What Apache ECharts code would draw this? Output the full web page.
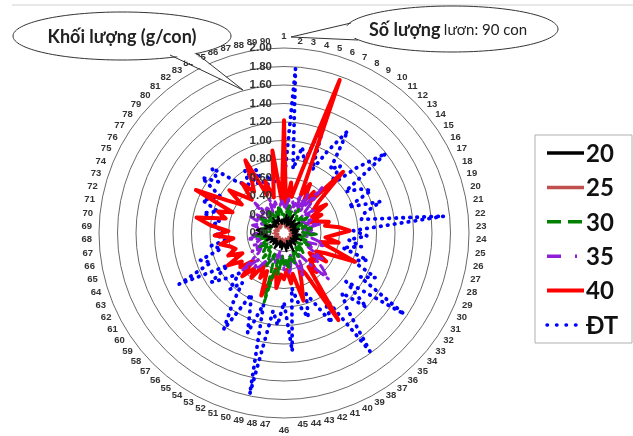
<!DOCTYPE html>
<html><head><meta charset="utf-8">
<script src="https://cdn.jsdelivr.net/npm/echarts@6/dist/echarts.min.js"></script>
<style>html,body{margin:0;padding:0;background:#fff}#c{width:633px;height:436px}</style>
</head><body><div id="c"></div>
<script>
const categories = Array.from({length: 90}, (_, i) => String(i + 1));
const seriesNames = ['20', '25', '30', '35', '40', 'ĐT'];

const s20 = [
0.15,0.10,0.20,0.12,0.18,0.08,0.15,0.22,0.10,0.14,
0.18,0.12,0.09,0.16,0.20,0.11,0.14,0.08,0.12,0.17,
0.10,0.15,0.13,0.09,0.18,0.12,0.15,0.10,0.20,0.14,
0.11,0.16,0.09,0.13,0.18,0.12,0.10,0.15,0.22,0.13,
0.09,0.17,0.12,0.20,0.15,0.11,0.14,0.18,0.10,0.16,
0.12,0.09,0.15,0.19,0.13,0.11,0.17,0.14,0.10,0.18,
0.12,0.15,0.20,0.13,0.17,0.22,0.18,0.28,0.24,0.30,
0.26,0.20,0.16,0.22,0.14,0.18,0.12,0.15,0.10,0.17,
0.13,0.20,0.11,0.16,0.14,0.19,0.12,0.10,0.15,0.13];
const s25 = [
0.12,0.08,0.10,0.06,0.12,0.09,0.07,0.11,0.08,0.10,
0.06,0.09,0.12,0.07,0.10,0.08,0.11,0.06,0.09,0.12,
0.08,0.10,0.07,0.11,0.09,0.06,0.10,0.08,0.12,0.07,
0.09,0.11,0.08,0.06,0.10,0.12,0.09,0.07,0.11,0.08,
0.10,0.06,0.09,0.12,0.08,0.10,0.07,0.11,0.09,0.06,
0.10,0.08,0.12,0.07,0.09,0.11,0.08,0.06,0.10,0.12,
0.09,0.07,0.11,0.08,0.10,0.06,0.09,0.12,0.08,0.10,
0.07,0.11,0.09,0.06,0.10,0.08,0.12,0.07,0.09,0.11,
0.08,0.06,0.10,0.12,0.09,0.07,0.11,0.14,0.13,0.10];
const s30 = [
0.20,0.15,0.25,0.30,0.20,0.25,0.15,0.20,0.30,0.25,
0.20,0.15,0.25,0.20,0.30,0.25,0.20,0.15,0.25,0.20,
0.30,0.25,0.20,0.35,0.25,0.20,0.15,0.25,0.20,0.30,
0.25,0.20,0.15,0.25,0.30,0.20,0.25,0.30,0.20,0.25,
0.35,0.30,0.25,0.40,0.30,0.35,0.25,0.45,0.30,0.78,
0.35,0.25,0.40,0.30,0.25,0.35,0.20,0.30,0.25,0.20,
0.30,0.25,0.20,0.15,0.25,0.20,0.30,0.25,0.20,0.15,
0.25,0.20,0.15,0.25,0.20,0.30,0.25,0.20,0.15,0.25,
0.20,0.30,0.25,0.20,0.15,0.25,0.20,0.30,0.25,0.20];
const s35 = [
0.30,0.25,0.40,0.20,0.35,0.30,0.45,0.25,0.50,0.30,
0.64,0.35,0.25,0.40,0.30,0.20,0.35,0.25,0.30,0.40,
0.20,0.30,0.25,0.35,0.20,0.30,0.40,0.45,0.25,0.35,
0.30,0.50,0.40,0.55,0.69,0.45,0.30,0.25,0.40,0.50,
0.30,0.25,0.35,0.45,0.30,0.40,0.25,0.30,0.20,0.35,
0.25,0.30,0.40,0.35,0.45,0.50,0.40,0.61,0.35,0.30,
0.40,0.25,0.35,0.30,0.25,0.40,0.30,0.35,0.20,0.30,
0.25,0.35,0.30,0.25,0.40,0.30,0.35,0.25,0.30,0.45,
0.25,0.35,0.30,0.25,0.40,0.30,0.35,0.25,0.30,0.35];
const s40 = [
1.22,0.30,0.55,0.40,0.70,1.76,0.45,0.60,0.40,0.55,
0.45,0.92,0.50,0.40,0.55,0.35,0.45,0.30,0.40,0.50,
0.45,0.60,0.71,0.55,0.45,0.60,0.40,0.55,0.83,0.50,
0.40,0.55,0.35,0.45,0.40,0.55,0.45,1.11,0.50,0.40,
0.55,0.76,0.45,0.55,0.40,0.50,0.45,0.60,0.40,0.55,
0.72,0.45,0.55,0.40,0.60,0.50,0.65,0.45,0.60,0.55,
0.70,0.50,0.65,0.55,0.60,0.70,0.55,0.75,0.60,0.80,
0.96,0.65,0.75,0.60,1.06,0.70,0.55,0.75,0.60,0.50,
0.70,0.55,0.65,0.89,0.45,0.60,0.40,0.55,0.90,0.35];
const sDT = [
0.55,1.78,0.70,0.95,0.80,1.30,0.75,1.00,1.30,0.85,
0.95,0.70,1.05,1.40,0.80,0.95,1.05,0.75,1.10,0.90,
0.85,1.74,0.75,0.90,0.70,0.85,0.65,0.95,0.80,1.10,
0.95,1.57,0.85,1.20,0.90,1.05,1.58,0.80,1.10,0.85,
0.70,0.95,0.80,0.60,1.28,0.75,1.00,0.85,1.78,0.80,
1.15,0.90,0.75,1.23,0.95,0.70,0.85,0.65,0.80,0.95,
0.70,1.26,0.85,0.95,0.70,0.80,0.60,0.75,0.65,0.80,
0.70,0.90,0.75,0.95,0.85,0.80,1.07,0.90,1.05,0.80,
0.70,0.65,0.80,0.60,0.75,0.50,0.65,0.55,0.60,0.45];

const seriesValues = {'20': s20, '25': s25, '30': s30, '35': s35, '40': s40, 'ĐT': sDT};
const maxValue = 2;

const CX = 284, CY = 233, R = 185;
const styles = {
  '20': {color: '#000000', width: 2, type: 'solid', legendDash: null},
  '25': {color: '#C0504D', width: 2, type: 'solid', legendDash: null},
  '30': {color: '#008000', width: 3, type: [8, 5], legendDash: [14, 7]},
  '35': {color: '#8E1EDB', width: 3, type: [10, 5, 2, 5], legendDash: [14, 14, 2, 20]},
  '40': {color: '#FF0000', width: 4, type: 'solid', legendDash: null},
  'ĐT': {color: '#0000FF', width: 3.8, type: [0.5, 6.5], legendDash: [0.5, 9]}
};

// ECharts radar goes counter-clockwise; reorder so labels run clockwise like the reference
const order = [0];
for (let i = categories.length - 1; i >= 1; i--) order.push(i);
const indicator = order.map(i => ({name: categories[i], min: 0, max: maxValue}));
const reorder = arr => order.map(i => arr[i]);

const drawOrder = ['ĐT', '40', '35', '30', '25', '20'];
const series = drawOrder.map(name => ({
  type: 'radar',
  name: name,
  symbol: 'none',
  silent: true,
  lineStyle: {color: styles[name].color, width: styles[name].width, type: styles[name].type, cap: 'round', join: 'round'},
  data: [{value: reorder(seriesValues[name]), name: name}]
}));

const graphic = [];
graphic.push({type: 'line', z: 100, shape: {x1: 12, y1: 5, x2: 633, y2: 5}, style: {stroke: '#d0d0d0', lineWidth: 1}});
// left bubble
graphic.push({type: 'ellipse', z: 100, shape: {cx: 122, cy: 36, rx: 109, ry: 24}, style: {fill: '#fff', stroke: '#333', lineWidth: 1}});
graphic.push({type: 'polygon', z: 101, shape: {points: [[172, 54], [243, 90], [194, 53]]}, style: {fill: '#fff'}});
graphic.push({type: 'polyline', z: 102, shape: {points: [[170, 55], [243, 90], [196, 53]]}, style: {stroke: '#333', lineWidth: 1, fill: null}});
graphic.push({type: 'text', z: 103, style: {text: 'Khối lượng (g/con)', x: 122, y: 37, align: 'center', verticalAlign: 'middle', textAlign: 'center', textVerticalAlign: 'middle', fontSize: 18, fontWeight: 'bold', fontFamily: 'Lato', fill: '#222'}});
// right bubble
graphic.push({type: 'ellipse', z: 100, shape: {cx: 452, cy: 29, rx: 106, ry: 23}, style: {fill: '#fff', stroke: '#333', lineWidth: 1}});
graphic.push({type: 'polygon', z: 101, shape: {points: [[352, 25], [291, 37], [357, 38]]}, style: {fill: '#fff'}});
graphic.push({type: 'polyline', z: 102, shape: {points: [[351, 23], [291, 37], [358, 40]]}, style: {stroke: '#333', lineWidth: 1, fill: null}});
graphic.push({type: 'text', z: 103, style: {
  text: '{a|Số lượng} {b|lươn: 90 con}', x: 448, y: 30, align: 'center', verticalAlign: 'middle', textAlign: 'center', textVerticalAlign: 'middle',
  fill: '#222',
  rich: {a: {fontSize: 18, fontWeight: 'bold', fontFamily: 'Lato', fill: '#222', color: '#222'}, b: {fontSize: 15, fontFamily: 'Lato', fill: '#222', color: '#222'}}
}});
// legend
graphic.push({type: 'rect', z: 100, shape: {x: 535, y: 135, width: 97, height: 208}, style: {fill: '#fff', stroke: '#b0b0b0', lineWidth: 1}});
seriesNames.forEach((name, k) => {
  const y = 153 + k * 34.4;
  const st = styles[name];
  graphic.push({type: 'line', z: 101, shape: {x1: 547, y1: y, x2: 584, y2: y},
    style: {stroke: st.color, lineWidth: name === '40' ? 4 : 3.5, lineDash: st.legendDash, lineCap: name === 'ĐT' ? 'round' : 'butt'}});
  graphic.push({type: 'text', z: 101, style: {text: name, x: 586, y: y + 1, align: 'left', verticalAlign: 'middle', textAlign: 'left', textVerticalAlign: 'middle',
    fontSize: 24, fontWeight: 'bold', fontFamily: 'Lato', fill: '#111'}});
});

const chart = echarts.init(document.getElementById('c'), null, {renderer: 'canvas'});
chart.setOption({
  animation: false,
  backgroundColor: '#fff',
  radar: {
    center: [CX, CY], radius: R, startAngle: 90, splitNumber: 10, shape: 'circle',
    indicator: indicator,
    nameGap: 7,
    axisName: {color: '#333', fontSize: 9.5, fontWeight: 'bold', fontFamily: 'Liberation Sans'},
    axisLine: {show: false},
    axisTick: {show: false},
    axisLabel: {show: false},
    splitLine: {lineStyle: {color: '#6a6a6a', width: 1}},
    splitArea: {show: false}
  },
  polar: {center: [CX, CY], radius: R},
  angleAxis: {type: 'value', min: 0, max: 360, startAngle: 90, show: false},
  radiusAxis: {
    type: 'value', min: 0, max: maxValue, interval: 0.2, z: 20,
    axisLine: {show: false}, axisTick: {show: false}, splitLine: {show: false},
    axisLabel: {inside: true, formatter: v => v.toFixed(2), fontSize: 11.5, fontWeight: 'bold', color: '#333', fontFamily: 'Liberation Sans', margin: 12}
  },
  series: series,
  graphic: graphic
});
</script></body></html>
